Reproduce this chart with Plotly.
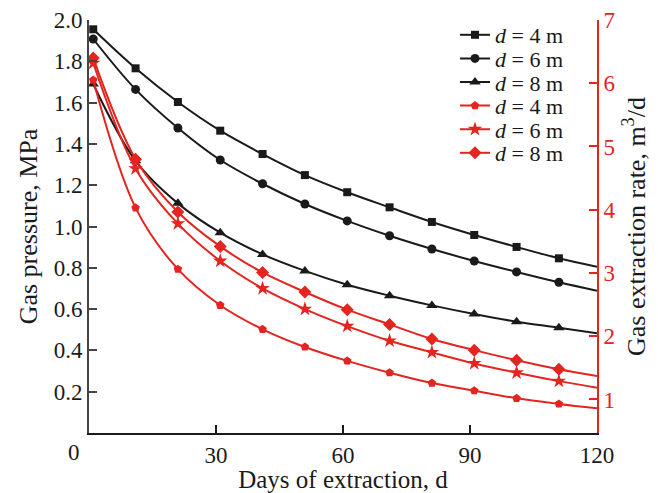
import plotly.graph_objects as go

days = [1, 11, 21, 31, 41, 51, 61, 71, 81, 91, 101, 111, 120]

# Gas pressure (MPa), left axis
p_d4 = [1.955, 1.766, 1.603, 1.464, 1.351, 1.249, 1.166, 1.093, 1.022, 0.959, 0.901, 0.846, 0.805]
p_d6 = [1.908, 1.664, 1.477, 1.322, 1.207, 1.109, 1.027, 0.955, 0.891, 0.833, 0.780, 0.730, 0.689]
p_d8 = [1.690, 1.318, 1.112, 0.970, 0.865, 0.785, 0.718, 0.665, 0.618, 0.576, 0.539, 0.510, 0.483]

# Gas extraction rate (m3/d), right axis
q_d4 = [6.05, 4.03, 3.06, 2.49, 2.11, 1.83, 1.61, 1.423, 1.26, 1.139, 1.019, 0.93, 0.861]
q_d6 = [6.32, 4.65, 3.78, 3.19, 2.756, 2.43, 2.16, 1.928, 1.745, 1.57, 1.423, 1.29, 1.186]
q_d8 = [6.40, 4.80, 3.965, 3.42, 3.008, 2.70, 2.42, 2.187, 1.957, 1.78, 1.62, 1.477, 1.37]

labels = ["<i>d</i> = 4 m", "<i>d</i> = 6 m", "<i>d</i> = 8 m"]

BLACK = "#1a1a1a"
RED = "#e3241f"
FONT = "Liberation Serif"
TICK = 23
TITLE = 26

# page body has an 8px margin: figure is sized so the plot lands where the reference has it
W, H = 650, 485
L, R, T, B = 81, 61, 12, 60
plot_top_px, plot_h = 20, H - T - B

fig = go.Figure()

def colors(c):
    # last point (day 120) is only a line end, without a marker
    return [c] * (len(days) - 1) + ["rgba(0,0,0,0)"]

legend_names = ["legend", "legend2", "legend3", "legend4", "legend5", "legend6"]
legend_centers = [35, 58.6, 82.2, 105.8, 129.4, 153.0]

series = [
    (p_d4, "square", 8, labels[0], BLACK, "y"),
    (p_d6, "circle", 9, labels[1], BLACK, "y"),
    (p_d8, "triangle-up", 10, labels[2], BLACK, "y"),
    (q_d4, "pentagon", 9, labels[0], RED, "y2"),
    (q_d6, "star", 11, labels[1], RED, "y2"),
    (q_d8, "diamond", 10, labels[2], RED, "y2"),
]

for i, (ys, sym, sz, lab, col, ax) in enumerate(series):
    fig.add_trace(go.Scatter(
        x=days, y=ys, name=lab, mode="lines+markers",
        line=dict(color=col, width=2, shape="spline"),
        marker=dict(symbol=sym, size=sz, color=colors(col), line=dict(width=0)),
        yaxis=ax, legend=legend_names[i],
    ))

legend_layout = {}
for name, c in zip(legend_names, legend_centers):
    legend_layout[name] = dict(
        x=(455 - 89) / 508, y=1 - (c - plot_top_px) / plot_h,
        xanchor="left", yanchor="middle",
        font=dict(family=FONT, size=22, color=BLACK),
        bgcolor="rgba(0,0,0,0)", borderwidth=0, itemwidth=30,
    )

fig.update_layout(
    width=W, height=H,
    margin=dict(l=L, r=R, t=T, b=B, autoexpand=False),
    paper_bgcolor="white", plot_bgcolor="white",
    font=dict(family=FONT, size=TICK, color=BLACK),
    showlegend=True,
    xaxis=dict(
        range=[0, 120], tickvals=[30, 60, 90, 120],
        ticks="inside", ticklen=8, tickwidth=1.5, tickcolor=BLACK,
        showline=True, linecolor=BLACK, linewidth=2,
        showgrid=False, zeroline=False, automargin=False,
        title=dict(text="Days of extraction, d", font=dict(size=25), standoff=6),
        tickfont=dict(size=TICK),
    ),
    yaxis=dict(
        range=[0, 2.0], tickvals=[0.2, 0.4, 0.6, 0.8, 1.0, 1.2, 1.4, 1.6, 1.8, 2.0],
        ticktext=["0.2", "0.4", "0.6", "0.8", "1.0", "1.2", "1.4", "1.6", "1.8", "2.0"],
        ticks="inside", ticklen=8, tickwidth=1.5, tickcolor="#444444",
        showline=True, linecolor="#444444", linewidth=2,
        showgrid=False, zeroline=False, automargin=False,
        title=dict(text="Gas pressure, MPa", font=dict(size=TITLE), standoff=9),
        tickfont=dict(size=TICK),
    ),
    yaxis2=dict(
        overlaying="y", side="right", anchor="x",
        range=[0.47, 7], tickvals=[1, 2, 3, 4, 5, 6, 7],
        ticks="inside", ticklen=8, tickwidth=1.5, tickcolor=RED,
        showline=True, linecolor=RED, linewidth=2,
        showgrid=False, zeroline=False, automargin=False,
        tickfont=dict(size=TICK, color=RED),
        title=dict(text="Gas extraction rate, m<sup>3</sup>/d", font=dict(size=TITLE, color=BLACK), standoff=12),
    ),
    **legend_layout,
)

fig.add_annotation(
    x=0, y=0, xref="paper", yref="paper", text="0", showarrow=False,
    xanchor="right", yanchor="top", xshift=-7, yshift=-5,
    font=dict(family=FONT, size=TICK, color=BLACK),
)

fig.write_html("out.html")
